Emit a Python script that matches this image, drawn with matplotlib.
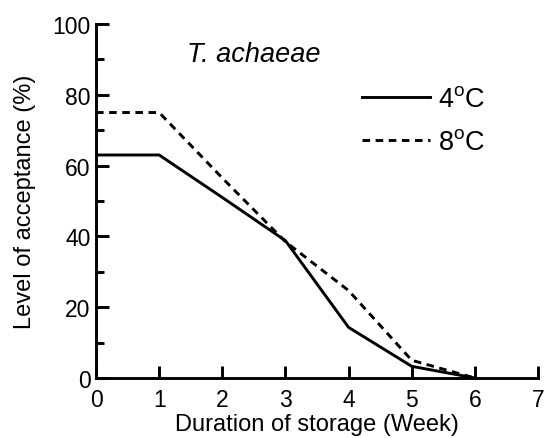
import matplotlib
matplotlib.use('Agg')
import matplotlib.pyplot as plt
from matplotlib.ticker import MultipleLocator

plt.rcParams['font.family'] = 'Liberation Sans'
plt.rcParams['mathtext.fontset'] = 'custom'
plt.rcParams['mathtext.rm'] = 'Liberation Sans'

weeks = [0, 1, 2, 3, 4, 5, 6]
accept_4c = [63, 63, 51, 38.8, 14.3, 3.3, 0]
accept_8c = [75, 75, 56.5, 38.5, 24.7, 5, 0]

fig = plt.figure(figsize=(5.44, 4.39), dpi=100)
ax = fig.add_axes([0.1765, 0.1367, 0.8125, 0.8063])

ax.plot(weeks, accept_4c, color='black', lw=2.1, label=r'4$^{\mathrm{o}}$C')
ax.plot(weeks, accept_8c, color='black', lw=2.1, dashes=(2.6, 1.9), label=r'8$^{\mathrm{o}}$C')

ax.set_xlim(0, 7)
ax.set_ylim(0, 100)
ax.xaxis.set_major_locator(MultipleLocator(1))
ax.yaxis.set_major_locator(MultipleLocator(20))
ax.yaxis.set_minor_locator(MultipleLocator(10))

for s in ['top', 'right']:
    ax.spines[s].set_visible(False)
for s in ['left', 'bottom']:
    ax.spines[s].set_linewidth(2.1)

ax.tick_params(axis='both', which='major', direction='in', length=9, width=2.1,
               labelsize=16.5, pad=4)
ax.tick_params(axis='x', which='major', pad=7)
ax.tick_params(axis='y', which='minor', direction='in', length=5.5, width=2.1)

ax.set_xlabel('Duration of storage (Week)', fontsize=17, labelpad=2)
ax.set_ylabel('Level of acceptance (%)', fontsize=17, labelpad=12)

ax.text(1.44, 91.5, 'T. achaeae', fontsize=19.5, style='italic', ha='left', va='center')

ax.legend(loc='upper left', bbox_to_anchor=(0.547, 0.893), frameon=False,
          fontsize=19.5, handlelength=2.5, handletextpad=0.3, labelspacing=0.63)

fig.savefig('out.png', dpi=100)
